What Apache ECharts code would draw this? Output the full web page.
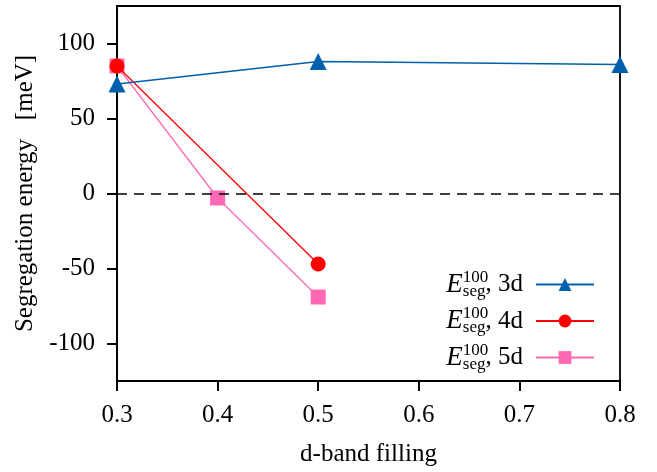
<!DOCTYPE html>
<html>
<head>
<meta charset="utf-8">
<script src="https://cdn.jsdelivr.net/npm/echarts@6/dist/echarts.min.js"></script>
<style>
  html, body { margin: 0; padding: 0; background: #fff; }
  #main { width: 657px; height: 472px; }
</style>
</head>
<body>
<div id="main"></div>
<script>
// d-band filling vs segregation energy
var x3d = [0.3, 0.5, 0.8];
var y3d = [73, 88, 86];
var x4d = [0.3, 0.5];
var y4d = [85, -47];
var x5d = [0.3, 0.4, 0.5];
var y5d = [85, -3, -69];
var seriesNames = ['3d', '4d', '5d'];

var FONT = 'Liberation Serif';

function pairs(xs, ys) {
    var out = [];
    for (var i = 0; i < xs.length; i++) {
        out.push([xs[i], ys[i]]);
    }
    return out;
}

var chart = echarts.init(document.getElementById('main'));
var option = {
    animation: false,
    backgroundColor: '#fff',
    grid: {
        left: 117, right: 37, top: 6, bottom: 89,
        show: true, borderColor: '#000', borderWidth: 1.8
    },
    xAxis: {
        type: 'value',
        min: 0.3, max: 0.8, interval: 0.1,
        name: 'd-band filling',
        nameLocation: 'middle',
        nameGap: 61,
        nameTextStyle: { fontFamily: FONT, fontSize: 25, color: '#000' },
        axisLine: { show: true, onZero: false, lineStyle: { color: '#000', width: 1.8 } },
        axisTick: { show: true, inside: false, length: 10, lineStyle: { color: '#000', width: 2 } },
        axisLabel: {
            margin: 22, fontFamily: FONT, fontSize: 25, color: '#000',
            formatter: function (v) { return v.toFixed(1); }
        },
        splitLine: { show: false }
    },
    yAxis: {
        type: 'value',
        min: -125, max: 125, splitNumber: 5,
        name: 'Segregation energy   [meV]',
        nameLocation: 'middle',
        nameGap: 76,
        nameTextStyle: { fontFamily: FONT, fontSize: 25, color: '#000' },
        axisLine: { show: true, onZero: false, lineStyle: { color: '#000', width: 1.8 } },
        axisTick: { show: true, inside: false, length: 10, lineStyle: { color: '#000', width: 2 } },
        axisLabel: {
            margin: 22, fontFamily: FONT, fontSize: 25, color: '#000',
            showMinLabel: false, showMaxLabel: false
        },
        splitLine: { show: false }
    },
    legend: {
        orient: 'vertical',
        right: 57, top: 264,
        align: 'right',
        itemWidth: 58, itemHeight: 16, itemGap: 5.5,
        data: seriesNames,
        formatter: function (name) {
            return '{e|E}{sup|100}{sub|seg}{n|, ' + name + '}';
        },
        textStyle: {
            color: '#000',
            fontFamily: FONT,
            rich: {
                e: { align: 'left', fontFamily: FONT, fontStyle: 'italic', fontSize: 27, lineHeight: 31, color: '#000' },
                sup: { align: 'left', fontFamily: FONT, fontSize: 17, lineHeight: 15, width: 0, verticalAlign: 'top', color: '#000' },
                sub: { align: 'left', fontFamily: FONT, fontSize: 17, lineHeight: 15, verticalAlign: 'bottom', color: '#000' },
                n: { align: 'left', fontFamily: FONT, fontSize: 25, lineHeight: 31, padding: [0, 8, 0, 0], color: '#000' }
            }
        }
    },
    series: [
        {
            name: seriesNames[0], type: 'line', z: 4,
            data: pairs(x3d, y3d),
            symbol: 'triangle', symbolSize: 17,
            itemStyle: { color: '#0060ad' },
            lineStyle: { color: '#0060ad', width: 1.3 },
            markLine: {
                silent: true, symbol: 'none', label: { show: false },
                lineStyle: { color: '#000', type: [10, 7], width: 1.5 },
                data: [{ yAxis: 0 }]
            }
        },
        {
            name: seriesNames[1], type: 'line', z: 3,
            data: pairs(x4d, y4d),
            symbol: 'circle', symbolSize: 15,
            itemStyle: { color: '#ff0000' },
            lineStyle: { color: '#ff0000', width: 1.3 }
        },
        {
            name: seriesNames[2], type: 'line', z: 2,
            data: pairs(x5d, y5d),
            symbol: 'rect', symbolSize: 15,
            itemStyle: { color: '#ff69b4' },
            lineStyle: { color: '#ff69b4', width: 1.3 }
        }
    ]
};
chart.setOption(option);
</script>
</body>
</html>
